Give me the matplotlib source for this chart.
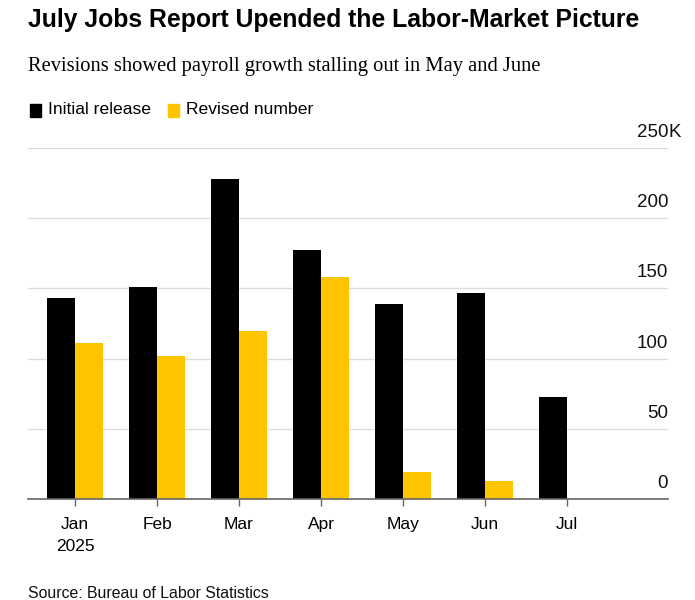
import matplotlib.pyplot as plt
import numpy as np

plt.rcParams["font.family"] = ["Liberation Sans", "DejaVu Sans"]

# Monthly payroll gains, thousands.
months = ["Jan\n2025", "Feb", "Mar", "Apr", "May", "Jun", "Jul"]
initial_release = [143, 151, 228, 177, 139, 147, 73]
revised_number = [111, 102, 120, 158, 19, 13, None]
yticks = [0, 50, 100, 150, 200, 250]

BLACK = "#000000"
YELLOW = "#FFC400"

fig = plt.figure(figsize=(6.95, 6.0), dpi=100)
ax = fig.add_axes([28 / 695, 101 / 600, 640 / 695, 351 / 600])

x = np.arange(len(months))
w = 0.34
ax.bar(x - w / 2, initial_release, width=w, color=BLACK, zorder=3)
rev_x = [xi for xi, v in zip(x, revised_number) if v is not None]
rev_v = [v for v in revised_number if v is not None]
ax.bar(np.array(rev_x) + w / 2, rev_v, width=w, color=YELLOW, zorder=3)

ax.set_xlim(-0.573, 7.23)
ax.set_ylim(0, 250)

# Gridlines with labels sitting above each line on the right.
for yv in yticks:
    if yv > 0:
        ax.axhline(yv, color="#dddddd", linewidth=1.0, zorder=1)
    ax.annotate(str(yv), xy=(1.0, yv), xycoords=("axes fraction", "data"),
                xytext=(0, 5), textcoords="offset points",
                ha="right", va="bottom", fontsize=13.5, color="#111111")
    if yv == yticks[-1]:
        ax.annotate("K", xy=(1.0, yv), xycoords=("axes fraction", "data"),
                    xytext=(0, 5), textcoords="offset points",
                    ha="left", va="bottom", fontsize=13.5, color="#111111")

ax.set_yticks([])
for side in ["top", "right", "left"]:
    ax.spines[side].set_visible(False)
ax.spines["bottom"].set_color("#666666")
ax.spines["bottom"].set_linewidth(1.2)
ax.spines["bottom"].set_zorder(4)

ax.set_xticks(x)
ax.set_xticklabels(months, fontsize=12.5, linespacing=1.6)
ax.tick_params(axis="x", length=5, color="#666666", width=1, pad=8)

fig.text(28 / 695, 1 - 20 / 600, "July Jobs Report Upended the Labor-Market Picture",
         fontsize=17.8, fontweight="bold", va="center", ha="left")
fig.text(28 / 695, 1 - 67 / 600, "Revisions showed payroll growth stalling out in May and June",
         fontsize=14.8, family=["Liberation Serif", "DejaVu Serif"], va="center", ha="left")

# Legend
fig.patches.append(plt.Rectangle((30 / 695, 1 - 117 / 600), 11 / 695, 13 / 600,
                                 transform=fig.transFigure, color=BLACK))
fig.text(48 / 695, 1 - 110 / 600, "Initial release", fontsize=12.6, va="center", ha="left")
fig.patches.append(plt.Rectangle((168 / 695, 1 - 117 / 600), 11 / 695, 13 / 600,
                                 transform=fig.transFigure, color=YELLOW))
fig.text(186 / 695, 1 - 110 / 600, "Revised number", fontsize=12.6, va="center", ha="left")

fig.text(28 / 695, 1 - 593 / 600, "Source: Bureau of Labor Statistics",
         fontsize=11.4, va="center", ha="left", color="#111111")

fig.savefig("out.png", dpi=100)
